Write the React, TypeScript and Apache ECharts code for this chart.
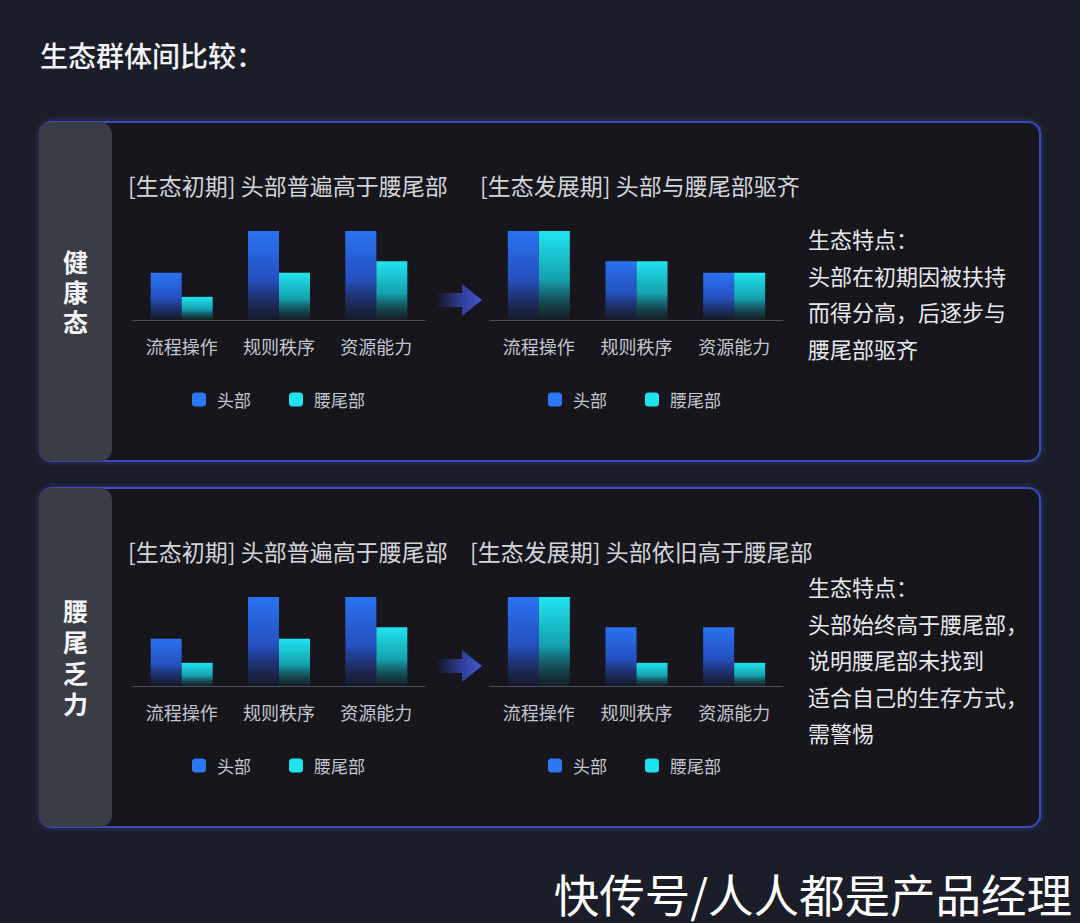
import React, { useEffect, useRef } from 'react';
import * as echarts from 'echarts';

const categories = ['流程操作', '规则秩序', '资源能力'];
const seriesNames = ['头部', '腰尾部'];

// 健康态
const healthyEarlyHead = [53, 100, 100];
const healthyEarlyTail = [26, 53, 66];
const healthyLateHead = [100, 66, 53];
const healthyLateTail = [100, 66, 53];
// 腰尾乏力
const weakEarlyHead = [53, 100, 100];
const weakEarlyTail = [26, 53, 66];
const weakLateHead = [100, 66, 66];
const weakLateTail = [100, 26, 26];

const pageTitle = '生态群体间比较：';
const panelLabels = ['健康态', '腰尾乏力'];
const chartTitles = [
  ['[生态初期] 头部普遍高于腰尾部', '[生态发展期] 头部与腰尾部驱齐'],
  ['[生态初期] 头部普遍高于腰尾部', '[生态发展期] 头部依旧高于腰尾部'],
];
const notes = [
  ['生态特点：', '头部在初期因被扶持', '而得分高，后逐步与', '腰尾部驱齐'],
  ['生态特点：', '头部始终高于腰尾部，', '说明腰尾部未找到', '适合自己的生存方式，', '需警惕'],
];
const watermark = '快传号/人人都是产品经理';

const FONT = '"Noto Sans CJK SC", "Noto Sans", sans-serif';

export default function App() {
  const ref = useRef<HTMLDivElement>(null);

  useEffect(() => {
    document.body.style.margin = '0';
    const chart = echarts.init(ref.current!, null, { renderer: 'svg' });

    const panelTops = [122, 488];
    const panelH = 339;
    const dataSets = [
      [[healthyEarlyHead, healthyEarlyTail], [healthyLateHead, healthyLateTail]],
      [[weakEarlyHead, weakEarlyTail], [weakLateHead, weakLateTail]],
    ];
    const gridLefts = [133, 490];
    const gridWidths = [292, 293];
    const legendLefts = [187, 543];
    const titleX = [[128, 480], [128, 470]];
    const notePos = [238, 586];
    const labelPitch = [30, 31];

    const headGrad = new echarts.graphic.LinearGradient(0, 0, 0, 1, [
      { offset: 0, color: '#2b72f2' },
      { offset: 0.55, color: '#2550bd' },
      { offset: 1, color: 'rgba(34,56,140,0.12)' },
    ]);
    const tailGrad = new echarts.graphic.LinearGradient(0, 0, 0, 1, [
      { offset: 0, color: '#1fe4ef' },
      { offset: 0.55, color: '#16a0ad' },
      { offset: 1, color: 'rgba(20,96,110,0.12)' },
    ]);

    const grid: any[] = [];
    const xAxis: any[] = [];
    const yAxis: any[] = [];
    const series: any[] = [];
    const legend: any[] = [];
    const graphic: any[] = [];

    graphic.push({
      type: 'text', x: 40, y: 55, z: 10,
      style: { text: pageTitle, fill: '#f2f3f6', fontSize: 28, fontWeight: 500, fontFamily: FONT, verticalAlign: 'middle' },
    });

    panelTops.forEach((top, p) => {
      const dy = top - 122;
      graphic.push({
        type: 'rect', z: 0,
        shape: { x: 40, y: top, width: 1000, height: panelH, r: 12 },
        style: { fill: '#14161e', stroke: '#3a4cbc', lineWidth: 2, shadowBlur: 6, shadowColor: 'rgba(60,80,220,0.45)' },
      });
      graphic.push({
        type: 'rect', z: 1,
        shape: { x: 39, y: top, width: 73, height: panelH, r: 12 },
        style: { fill: '#3a3d46' },
      });
      const chars = panelLabels[p].split('');
      const pitch = labelPitch[p];
      const cy = top + panelH / 2 - 1;
      chars.forEach((ch, i) => {
        graphic.push({
          type: 'text', x: 75.5, y: cy + (i - (chars.length - 1) / 2) * pitch, z: 10,
          style: {
            text: ch, fill: '#f3f4f6', fontSize: 25, fontWeight: 'bold', fontFamily: FONT,
            align: 'center', verticalAlign: 'middle', lineHeight: 26,
          },
        });
      });
      // arrow
      const ay = 300 + dy;
      graphic.push({
        type: 'polygon', z: 5,
        shape: { points: [[436, ay - 7], [462, ay - 7], [462, ay - 16], [482, ay], [462, ay + 16], [462, ay + 7], [436, ay + 7]] },
        style: {
          fill: new echarts.graphic.LinearGradient(0, 0, 1, 0, [
            { offset: 0, color: 'rgba(50,70,190,0.02)' },
            { offset: 0.55, color: 'rgba(60,80,205,0.7)' },
            { offset: 1, color: '#4357d0' },
          ]),
        },
      });
      // notes
      notes[p].forEach((line, i) => {
        graphic.push({
          type: 'text', x: 808, y: notePos[p] + i * 36.5, z: 10,
          style: { text: line, fill: '#e8e9ee', fontSize: 22, fontFamily: FONT, verticalAlign: 'middle', lineHeight: 26 },
        });
      });

      [0, 1].forEach((c) => {
        const gi = p * 2 + c;
        graphic.push({
          type: 'text', x: titleX[p][c], y: 185 + dy, z: 10,
          style: { text: chartTitles[p][c], fill: '#d3d5db', fontSize: 23, fontFamily: FONT, verticalAlign: 'middle' },
        });
        grid.push({ left: gridLefts[c], width: gridWidths[c], top: 231 + dy, height: 89, containLabel: false });
        xAxis.push({
          type: 'category', gridIndex: gi, data: categories,
          axisLine: { show: true, lineStyle: { color: '#4a4e59', width: 1 } },
          axisTick: { show: false },
          axisLabel: { color: '#c4c7cf', fontSize: 18, margin: 17, fontFamily: FONT },
          z: 3,
        });
        yAxis.push({ type: 'value', gridIndex: gi, min: 0, max: 100, show: false });
        const [head, tail] = dataSets[p][c];
        series.push({
          type: 'bar', name: seriesNames[0], xAxisIndex: gi, yAxisIndex: gi, data: head,
          barWidth: 31, barGap: '0%', itemStyle: { color: headGrad }, z: 4,
        });
        series.push({
          type: 'bar', name: seriesNames[1], xAxisIndex: gi, yAxisIndex: gi, data: tail,
          barWidth: 31, barGap: '0%', itemStyle: { color: tailGrad }, z: 4,
        });
        legend.push({
          left: legendLefts[c], top: 386 + dy, orient: 'horizontal',
          itemWidth: 14, itemHeight: 14, itemGap: 38, icon: 'roundRect', selectedMode: false,
          data: [
            { name: seriesNames[0], itemStyle: { color: '#2a78f5' } },
            { name: seriesNames[1], itemStyle: { color: '#1ee2ee' } },
          ],
          textStyle: { color: '#c4c7cf', fontSize: 17, fontFamily: FONT, padding: [0, 0, 0, 6] },
        });
      });
    });

    graphic.push({
      type: 'text', x: 1072, y: 893, z: 10,
      style: { text: watermark, fill: '#ffffff', fontSize: 45.5, fontFamily: FONT, align: 'right', verticalAlign: 'middle', lineHeight: 46 },
    });

    chart.setOption({
      animation: false,
      backgroundColor: '#1b1e28',
      textStyle: { fontFamily: FONT },
      grid, xAxis, yAxis, series, legend, graphic,
    });

    return () => chart.dispose();
  }, []);

  return <div ref={ref} style={{ width: 1080, height: 923, background: '#1b1e28' }} />;
}
